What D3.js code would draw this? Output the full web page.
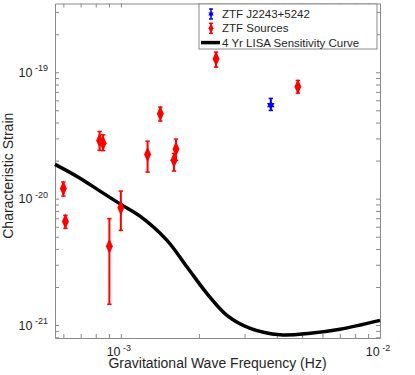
<!DOCTYPE html>
<html>
<head>
<meta charset="utf-8">
<script src="https://cdn.jsdelivr.net/npm/d3@7"></script>
<style>
  body { margin: 0; background: #fff; }
  text { font-family: "Liberation Sans", Arial, sans-serif; fill: #262626; }
</style>
</head>
<body>
<svg width="415" height="375"></svg>
<script>
// ZTF sources (frequency in Hz, characteristic strain, error bar ends)
const sourceFreq = [6.00e-4, 6.11e-4, 9.03e-4, 1.00e-3, 8.28e-4, 8.54e-4, 1.268e-3, 1.42e-3, 1.603e-3, 1.632e-3, 2.33e-3, 4.82e-3];
const sourceStrain = [1.206e-20, 6.61e-21, 4.20e-21, 8.49e-21, 2.89e-20, 2.75e-20, 2.24e-20, 4.70e-20, 2.01e-20, 2.47e-20, 1.279e-19, 7.68e-20];
const sourceUpper = [1.353e-20, 7.38e-21, 6.95e-21, 1.148e-20, 3.40e-20, 3.20e-20, 2.85e-20, 5.30e-20, 2.28e-20, 2.96e-20, 1.442e-19, 8.61e-20];
const sourceLower = [1.048e-20, 5.82e-21, 1.46e-21, 5.61e-21, 2.41e-20, 2.40e-20, 1.623e-20, 4.11e-20, 1.653e-20, 2.01e-20, 1.098e-19, 6.84e-20];

// ZTF J2243+5242
const j2243Freq = [3.79e-3];
const j2243Strain = [5.50e-20];
const j2243Upper = [6.21e-20];
const j2243Lower = [4.99e-20];

// 4 yr LISA sensitivity curve
const lisaFreq = [5.57e-4, 6.98e-4, 8.34e-4, 1.0e-3, 1.189e-3, 1.507e-3, 1.80e-3, 2.15e-3, 2.566e-3, 3.155e-3, 4.12e-3, 5.37e-3, 7.01e-3, 1.0e-2];
const lisaStrain = [1.867e-20, 1.447e-20, 1.142e-20, 9.01e-21, 7.24e-21, 4.68e-21, 2.88e-21, 1.774e-21, 1.195e-21, 9.43e-22, 8.38e-22, 8.61e-22, 9.27e-22, 1.09e-21];

const xTickLabels = ['-3', '-2'];
const yTickLabels = ['-21', '-20', '-19'];

const legendLabels = ['ZTF J2243+5242', 'ZTF Sources', '4 Yr LISA Sensitivity Curve'];

const svg = d3.select('svg');
const width = +svg.attr('width');
const height = +svg.attr('height');

const margin = { top: 3.5, right: 35, bottom: 37, left: 55 };
const innerWidth = width - margin.left - margin.right;
const innerHeight = height - margin.top - margin.bottom;

const boxColor = '#8a8a8a';

// six pointed star (matlab 'h' marker)
const hexagram = {
  draw(ctx, size) {
    const r = Math.sqrt(size) * 0.62;
    [0, Math.PI].forEach(rot => {
      for (let k = 0; k < 3; k++) {
        const a = rot - Math.PI / 2 + k * 2 * Math.PI / 3;
        const px = r * Math.cos(a), py = r * Math.sin(a);
        if (k === 0) ctx.moveTo(px, py); else ctx.lineTo(px, py);
      }
      ctx.closePath();
    });
  }
};

const render = () => {
  const xScale = d3.scaleLog()
    .domain([5.57e-4, 1e-2])
    .range([0, innerWidth]);

  const yScale = d3.scaleLog()
    .domain([7.9e-22, 3.5e-19])
    .range([innerHeight, 0]);

  const g = svg.append('g')
    .attr('transform', `translate(${margin.left},${margin.top})`);

  const isPow10 = v => Math.abs(Math.log10(v) - Math.round(Math.log10(v))) < 1e-6;

  // axes, ticks pointing inward like matlab
  const xTicks = xScale.ticks();
  const yTicks = yScale.ticks();

  const styleAxis = sel => {
    sel.select('.domain').attr('stroke', boxColor);
    sel.selectAll('.tick line').attr('stroke', boxColor);
    sel.selectAll('.tick text').remove();
  };

  const xAxisG = g.append('g')
    .attr('transform', `translate(0,${innerHeight})`)
    .call(d3.axisBottom(xScale).tickValues(xTicks).tickSize(-4).tickSizeOuter(0))
    .call(styleAxis);

  g.append('g')
    .call(d3.axisTop(xScale).tickValues(xTicks).tickSize(-4).tickSizeOuter(0))
    .call(styleAxis);

  const yAxisG = g.append('g')
    .call(d3.axisLeft(yScale).tickValues(yTicks).tickSize(-4).tickSizeOuter(0))
    .call(styleAxis);

  g.append('g')
    .attr('transform', `translate(${innerWidth},0)`)
    .call(d3.axisRight(yScale).tickValues(yTicks).tickSize(-4).tickSizeOuter(0))
    .call(styleAxis);

  // power of ten labels
  const xMajor = xTicks.filter(isPow10);
  xMajor.forEach((v, i) => {
    const t = xAxisG.append('text')
      .attr('x', xScale(v) - 2)
      .attr('y', 18)
      .attr('text-anchor', 'middle')
      .attr('font-size', 12.5);
    t.append('tspan').text('10');
    t.append('tspan').attr('dx', 2.5).attr('dy', -5.5).attr('font-size', 9).text(xTickLabels[i]);
  });

  const yMajor = yTicks.filter(isPow10);
  yMajor.forEach((v, i) => {
    const t = yAxisG.append('text')
      .attr('x', -7)
      .attr('y', yScale(v) + 4.5)
      .attr('text-anchor', 'end')
      .attr('font-size', 12.5);
    t.append('tspan').text('10');
    t.append('tspan').attr('dx', 2.5).attr('dy', -5.5).attr('font-size', 9).text(yTickLabels[i]);
  });

  // axis titles
  g.append('text')
    .attr('x', innerWidth / 2)
    .attr('y', innerHeight + 30)
    .attr('text-anchor', 'middle')
    .attr('font-size', 14)
    .text('Gravitational Wave Frequency (Hz)');

  g.append('text')
    .attr('transform', `translate(${13 - margin.left},${innerHeight / 2 + 5}) rotate(-90)`)
    .attr('text-anchor', 'middle')
    .attr('font-size', 14)
    .text('Characteristic Strain');

  // sensitivity curve
  const lisaData = lisaFreq.map((f, i) => ({ f, h: lisaStrain[i] }));
  const line = d3.line()
    .x(d => xScale(d.f))
    .y(d => yScale(d.h))
    .curve(d3.curveCatmullRom);

  g.append('path')
    .datum(lisaData)
    .attr('fill', 'none')
    .attr('stroke', '#000')
    .attr('stroke-width', 3.5)
    .attr('d', line);

  // error bars + markers
  const diamond = d3.symbol().type(d3.symbolDiamond).size(42);
  const star = d3.symbol().type(hexagram).size(50);

  const drawErr = (fs, hs, up, lo, color, marker, scl) => {
    const data = fs.map((f, i) => ({ f, h: hs[i], up: up[i], lo: lo[i] }));
    const pts = g.append('g').selectAll('g').data(data).enter().append('g');
    pts.append('line')
      .attr('x1', d => xScale(d.f)).attr('x2', d => xScale(d.f))
      .attr('y1', d => yScale(d.up)).attr('y2', d => yScale(d.lo))
      .attr('stroke', color).attr('stroke-width', 2);
    ['up', 'lo'].forEach(k => {
      pts.append('line')
        .attr('x1', d => xScale(d.f) - 2.2).attr('x2', d => xScale(d.f) + 2.2)
        .attr('y1', d => yScale(d[k])).attr('y2', d => yScale(d[k]))
        .attr('stroke', color).attr('stroke-width', 1.5);
    });
    pts.append('path')
      .attr('transform', d => `translate(${xScale(d.f)},${yScale(d.h)}) scale(${scl})`)
      .attr('d', marker())
      .attr('fill', color);
  };

  drawErr(sourceFreq, sourceStrain, sourceUpper, sourceLower, '#ff0000', diamond, '1,1.3');
  drawErr(j2243Freq, j2243Strain, j2243Upper, j2243Lower, '#0000ff', star, '1');

  // legend
  const lg = svg.append('g').attr('transform', 'translate(199,4)');
  lg.append('rect')
    .attr('width', 178).attr('height', 45)
    .attr('fill', '#fff').attr('stroke', boxColor);

  legendLabels.forEach((lab, i) => {
    const cy = 10 + i * 14.3;
    lg.append('text')
      .attr('x', 23).attr('y', cy + 4)
      .attr('font-size', 11.5)
      .text(lab);
    if (i < 2) {
      const color = i === 0 ? '#0000ff' : '#ff0000';
      lg.append('line').attr('x1', 12).attr('x2', 12).attr('y1', cy - 5).attr('y2', cy + 5)
        .attr('stroke', color).attr('stroke-width', 1.5);
      lg.append('line').attr('x1', 10).attr('x2', 14).attr('y1', cy - 5).attr('y2', cy - 5)
        .attr('stroke', color).attr('stroke-width', 1.5);
      lg.append('line').attr('x1', 10).attr('x2', 14).attr('y1', cy + 5).attr('y2', cy + 5)
        .attr('stroke', color).attr('stroke-width', 1.5);
      lg.append('path')
        .attr('transform', `translate(12,${cy}) scale(${i === 0 ? '0.7' : '0.7,0.9'})`)
        .attr('d', (i === 0 ? star : diamond)())
        .attr('fill', color);
    } else {
      lg.append('line').attr('x1', 2).attr('x2', 21).attr('y1', cy).attr('y2', cy)
        .attr('stroke', '#000').attr('stroke-width', 3.5);
    }
  });
};

render();
</script>
</body>
</html>
